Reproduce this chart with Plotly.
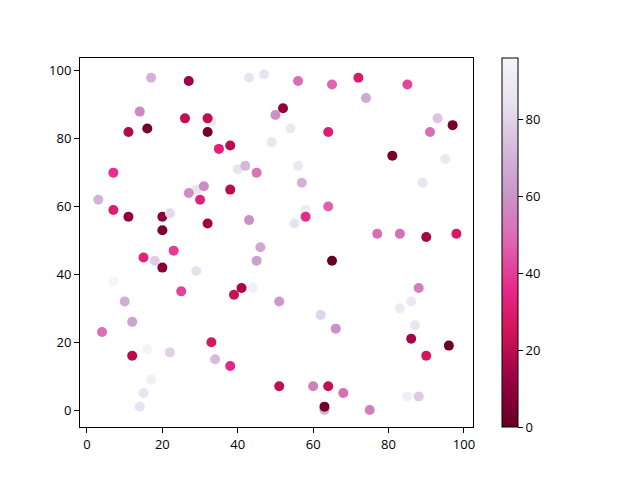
import plotly.graph_objects as go

x_vals = [17, 27, 14, 26, 33, 32, 11, 16, 32, 7,
          43, 47, 56, 65, 52, 50, 54, 64, 49, 35,
          38, 40, 42, 45, 56, 57, 72, 85, 74, 93,
          97, 91, 81, 95, 89, 3, 7, 11, 20, 20,
          22, 29, 27, 31, 30, 32, 15, 18, 20, 23,
          7, 29, 25, 10, 38, 58, 58, 55, 64, 43,
          46, 45, 65, 41, 39, 44, 51, 77, 83, 90,
          98, 88, 86, 83, 12, 4, 12, 16, 22, 17,
          15, 14, 33, 34, 62, 66, 38, 51, 60, 64,
          68, 63, 63, 87, 86, 96, 90, 75, 85, 88]
y_vals = [98, 97, 88, 86, 85, 86, 82, 83, 82, 70,
          98, 99, 97, 96, 89, 87, 83, 82, 79, 77,
          78, 71, 72, 70, 72, 67, 98, 96, 92, 86,
          84, 82, 75, 74, 67, 62, 59, 57, 57, 53,
          58, 65, 64, 66, 62, 55, 45, 44, 42, 47,
          38, 41, 35, 32, 65, 59, 57, 55, 60, 56,
          48, 44, 44, 36, 34, 36, 32, 52, 52, 51,
          52, 36, 32, 30, 26, 23, 16, 18, 17, 9,
          5, 1, 20, 15, 28, 24, 13, 7, 7, 7,
          5, 0, 1, 25, 21, 19, 16, 0, 4, 4]
c_vals = [70, 13, 57, 22, 88, 21, 18, 4, 3, 37,
          85, 86, 50, 48, 10, 59, 88, 30, 87, 32,
          20, 86, 72, 52, 88, 70, 29, 42, 67, 76,
          4, 50, 4, 88, 86, 70, 30, 10, 9, 6,
          82, 86, 58, 58, 32, 14, 33, 78, 8, 40,
          96, 84, 41, 68, 20, 90, 36, 85, 47, 59,
          66, 64, 0, 16, 23, 93, 62, 50, 50, 15,
          27, 54, 88, 89, 65, 51, 19, 94, 79, 93,
          85, 85, 27, 73, 80, 59, 35, 21, 55, 22,
          50, 70, 3, 86, 15, 2, 26, 55, 92, 77]

FONT = dict(family="Open Sans, Noto Sans, DejaVu Sans", size=13, color="black")

fig = go.Figure()
fig.add_trace(go.Scatter(
    x=x_vals, y=y_vals, mode="markers",
    marker=dict(
        size=10, color=c_vals, colorscale="PuRd_r", line=dict(width=0),
        colorbar=dict(
            x=1.074, xanchor="left", y=0.5, yanchor="middle",
            len=1.0, lenmode="fraction", thickness=16, ypad=0, xpad=0,
            outlinecolor="black", outlinewidth=1,
            ticks="outside", ticklen=5, tickwidth=1, tickcolor="black",
            tickvals=[0, 20, 40, 60, 80],
            tickfont=FONT,
        ),
    ),
    showlegend=False,
))

axis_common = dict(
    showgrid=False, zeroline=False, showline=True, linecolor="black", linewidth=1,
    mirror=True, ticks="outside", ticklen=5, tickwidth=1, tickcolor="black",
    tickfont=FONT,
)
fig.update_xaxes(range=[-1.85, 102.4], tickvals=[0, 20, 40, 60, 80, 100], **axis_common)
fig.update_yaxes(range=[-5.0, 103.8], tickvals=[0, 20, 40, 60, 80, 100], **axis_common)

fig.update_layout(
    width=632, height=472,
    margin=dict(l=72, r=167, t=50, b=53),
    plot_bgcolor="white", paper_bgcolor="white",
)
fig.write_html("out.html")
